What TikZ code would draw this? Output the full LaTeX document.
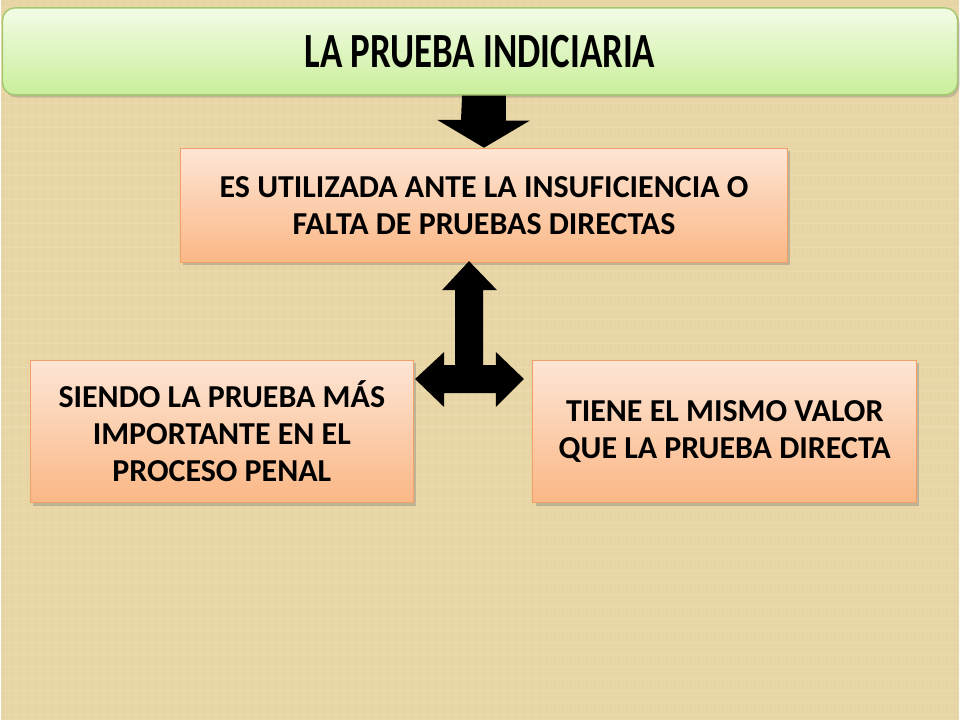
\documentclass[tikz,border=0pt]{standalone}
\usepackage{fontspec}
\setmainfont{Carlito}
\usetikzlibrary{shadows}

\definecolor{paper}{HTML}{E8D6A6}
\definecolor{paperdark}{HTML}{CDB47C}
\definecolor{paperlight}{HTML}{F3E6C2}
\definecolor{titletop}{HTML}{F3FCE6}
\definecolor{titlebot}{HTML}{C9EE9A}
\definecolor{titleline}{HTML}{A3C872}
\definecolor{infotop}{HTML}{FDE5D5}
\definecolor{infobot}{HTML}{FBB785}
\definecolor{infoline}{HTML}{F2A166}

\tikzset{
  titlebox/.style={draw=titleline, line width=0.8pt, top color=titletop, bottom color=titlebot,
    rounded corners=7pt, minimum width=19.12cm, minimum height=1.74cm,
    font=\fontsize{28}{32}\selectfont\bfseries,
    drop shadow={shadow xshift=1.2pt, shadow yshift=-1.6pt, opacity=0.35}},
  infobox/.style={draw=infoline, line width=0.6pt, top color=infotop, bottom color=infobot,
    align=center, font=\fontsize{18.2}{21}\selectfont\bfseries,
    drop shadow={shadow xshift=1.6pt, shadow yshift=-1.6pt, opacity=0.4}},
  blockarrow/.style={fill=black, draw=none}
}

\begin{document}
\begin{tikzpicture}[x=0.2mm, y=-0.2mm]
    % background
    \fill[paper] (0,0) rectangle (960,720);
    \foreach \i in {3,11,...,960}
        \draw[paperdark, opacity=0.1, line width=0.5pt] (\i,0) -- (\i,720);
    \foreach \i in {7,19,...,720}
        \draw[paperlight, opacity=0.25, line width=0.6pt] (0,\i) -- (960,\i);
    \useasboundingbox (0,0) rectangle (960,720);

    \node[titlebox] (title) at (480,51) {\scalebox{0.75}[1]{LA PRUEBA INDICIARIA}};

    \node[infobox, minimum width=12.16cm, minimum height=2.28cm] (uso) at (484,205)
        {ES UTILIZADA ANTE LA INSUFICIENCIA O\\FALTA DE PRUEBAS DIRECTAS};

    \node[infobox, minimum width=7.66cm, minimum height=2.86cm] (importante) at (221.5,431.5)
        {SIENDO LA PRUEBA MÁS\\IMPORTANTE EN EL\\PROCESO PENAL};

    \node[infobox, minimum width=7.68cm, minimum height=2.86cm] (valor) at (725,431.5)
        {TIENE EL MISMO VALOR\\QUE LA PRUEBA DIRECTA};

    % down arrow
    \coordinate (dtop) at (title.south -| uso.north);
    \fill[blockarrow] ([xshift=-22*0.2mm]dtop) -- ([xshift=22*0.2mm]dtop)
        -- ++(0,25) -- ++(24,0) -- (uso.north) -- ++(-47,-28) -- ++(24,0) -- cycle;

    % three-way arrow
    \coordinate (fork) at (469,379);
    \begin{scope}[shift={(fork)}]
        \fill[blockarrow] (0,-118) -- (28,-89) -- (14,-89) -- (14,-14) -- (27,-14) -- (27,-27)
            -- (55,0) -- (27,28) -- (27,14) -- (-25,14) -- (-25,28) -- (-54,0) -- (-25,-27)
            -- (-25,-14) -- (-14,-14) -- (-14,-89) -- (-27,-89) -- cycle;
    \end{scope}
\end{tikzpicture}
\end{document}
